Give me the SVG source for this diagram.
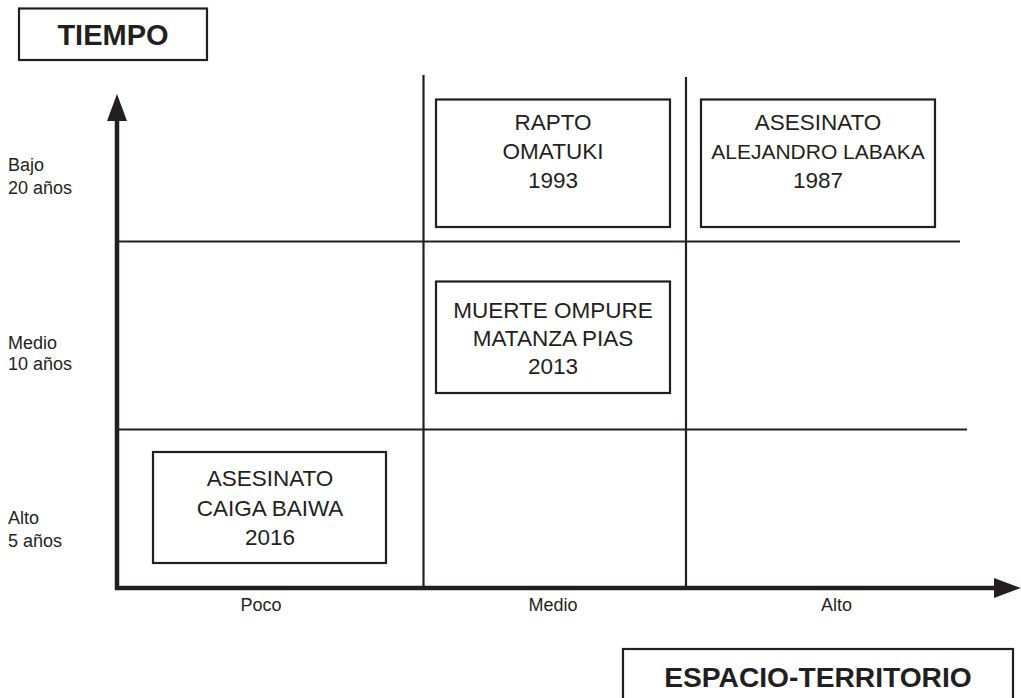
<svg xmlns="http://www.w3.org/2000/svg" width="1021" height="698" viewBox="0 0 1021 698">
<style>
  .box { fill: #ffffff; stroke: #231f20; stroke-width: 2.2; }
  .grid { stroke: #231f20; stroke-width: 2.2; fill: none; }
  .axis { stroke: #231f20; stroke-width: 4.5; fill: none; }
  .t { font-family: "Liberation Sans", Arial, sans-serif; fill: #231f20; }
  .node { font-size: 22.5px; text-anchor: middle; }
  .lab { font-size: 18px; }
  .title { font-size: 29px; font-weight: bold; text-anchor: middle; }
</style>
<defs>
  <marker id="head" viewBox="0 0 27 20" refX="0" refY="10" markerWidth="27" markerHeight="20" markerUnits="userSpaceOnUse" orient="auto">
    <path d="M0,0 L27,10 L0,20 Z" fill="#231f20"/>
  </marker>
</defs>
<rect width="1021" height="698" fill="#ffffff"/>
<g id="connectors">
  <line class="grid" x1="423.5" y1="75" x2="423.5" y2="588"/>
  <line class="grid" x1="686" y1="77" x2="686" y2="588"/>
  <line class="grid" x1="117" y1="241.5" x2="960" y2="241.5"/>
  <line class="grid" x1="117" y1="429.5" x2="967" y2="429.5"/>
  <line class="axis" x1="117" y1="590" x2="117" y2="121" marker-end="url(#head)"/>
  <line class="axis" x1="115" y1="588" x2="994" y2="588" marker-end="url(#head)"/>
</g>
<g id="tiempo">
  <rect class="box" x="19" y="8.5" width="188" height="51.5"/>
  <text class="t title" x="113" y="45">TIEMPO</text>
</g>
<g id="espacio">
  <rect class="box" x="623" y="649" width="390" height="60"/>
  <text class="t title" x="818" y="687" style="font-size:28.2px">ESPACIO-TERRITORIO</text>
</g>
<g id="rapto">
  <rect class="box" x="436" y="99.5" width="234" height="127.5"/>
  <text class="t node" x="553" y="130">RAPTO</text>
  <text class="t node" x="553" y="159">OMATUKI</text>
  <text class="t node" x="553" y="188">1993</text>
</g>
<g id="labaka">
  <rect class="box" x="701" y="99.5" width="234" height="127.5"/>
  <text class="t node" x="818" y="130">ASESINATO</text>
  <text class="t node" x="818" y="159" style="font-size:21px">ALEJANDRO LABAKA</text>
  <text class="t node" x="818" y="188">1987</text>
</g>
<g id="ompure">
  <rect class="box" x="436" y="281.5" width="234" height="111.5"/>
  <text class="t node" x="553" y="318">MUERTE OMPURE</text>
  <text class="t node" x="553" y="346">MATANZA PIAS</text>
  <text class="t node" x="553" y="374">2013</text>
</g>
<g id="caiga">
  <rect class="box" x="153" y="452" width="233" height="111"/>
  <text class="t node" x="270" y="486">ASESINATO</text>
  <text class="t node" x="270" y="516">CAIGA BAIWA</text>
  <text class="t node" x="270" y="545">2016</text>
</g>
<g id="labels">
  <text class="t lab" x="8" y="171">Bajo</text>
  <text class="t lab" x="8" y="193.5">20 años</text>
  <text class="t lab" x="8" y="348.5">Medio</text>
  <text class="t lab" x="8" y="370">10 años</text>
  <text class="t lab" x="8" y="524">Alto</text>
  <text class="t lab" x="8" y="547">5 años</text>
  <text class="t lab" x="261" y="611" text-anchor="middle">Poco</text>
  <text class="t lab" x="553" y="611" text-anchor="middle">Medio</text>
  <text class="t lab" x="836.5" y="611" text-anchor="middle">Alto</text>
</g>
</svg>
